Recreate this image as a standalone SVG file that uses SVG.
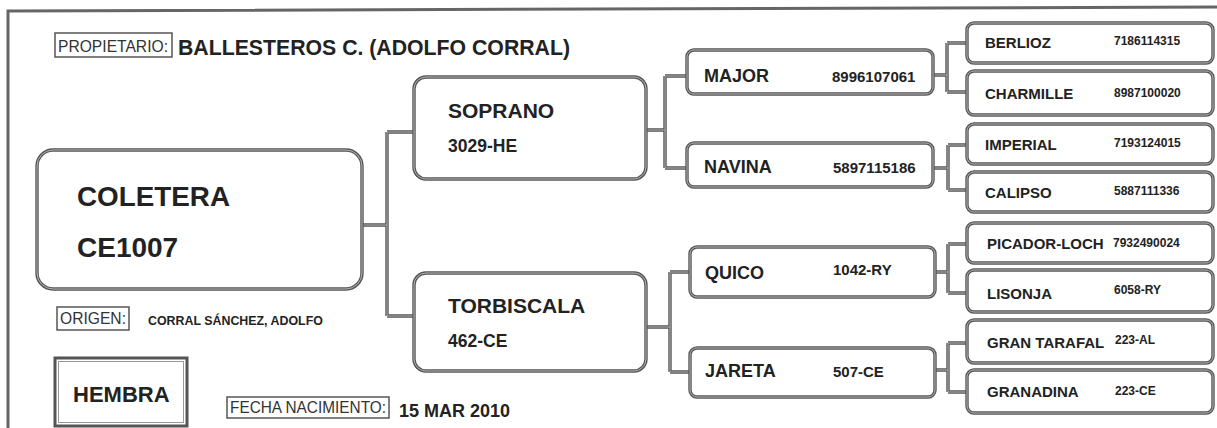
<svg xmlns="http://www.w3.org/2000/svg" width="1217" height="428" viewBox="0 0 1217 428">
<style>
.o{fill:none;stroke:#555;stroke-width:3.4}
.i{fill:none;stroke:#b5b5b5;stroke-width:1}
.n{fill:#fff}
.lb{fill:none;stroke:#555;stroke-width:1.5}
.c{fill:none;stroke:#555;stroke-width:3.4}
.ci{fill:none;stroke:#b5b5b5;stroke-width:1}
text{font-family:"Liberation Sans",Arial,sans-serif;fill:#222}
.b{font-weight:bold}
.r{font-weight:normal;fill:#333}
</style>
<rect x="0" y="0" width="1217" height="428" fill="#fff"/>
<g id="frame">
<path d="M8,428 V11 L1217,7" fill="none" stroke="#666" stroke-width="3"/>
</g>
<g id="connectors">
<path class="c" d="M362,225 H387 M387,132 V316 M387,132 H414 M387,316 H414 M646,130 H665 M665,76 V168 M665,76 H687 M665,168 H687 M646,327 H670 M670,272 V372 M670,272 H690 M670,372 H690 M933,75 H947 M947,43 V92 M947,43 H967 M947,92 H967 M933,168 H948 M948,145 V190 M948,145 H967 M948,190 H967 M935,272 H948 M948,244 V293 M948,244 H967 M948,293 H967 M935,370 H948 M948,343 V392 M948,343 H967 M948,392 H967"/>
<path class="ci" d="M362,225 H387 M387,132 V316 M387,132 H414 M387,316 H414 M646,130 H665 M665,76 V168 M665,76 H687 M665,168 H687 M646,327 H670 M670,272 V372 M670,272 H690 M670,372 H690 M933,75 H947 M947,43 V92 M947,43 H967 M947,92 H967 M933,168 H948 M948,145 V190 M948,145 H967 M948,190 H967 M935,272 H948 M948,244 V293 M948,244 H967 M948,293 H967 M935,370 H948 M948,343 V392 M948,343 H967 M948,392 H967"/>
</g>
<g id="propietario">
<rect class="lb" x="55" y="33" width="117" height="24"/>
<text class="r" x="58" y="52" font-size="17" textLength="110" lengthAdjust="spacingAndGlyphs">PROPIETARIO:</text>
<text class="b" x="178" y="55" font-size="22" textLength="392" lengthAdjust="spacingAndGlyphs">BALLESTEROS C. (ADOLFO CORRAL)</text>
</g>
<g id="coletera">
<rect class="n o" x="37" y="150" width="325" height="139" rx="16"/>
<rect class="i" x="37" y="150" width="325" height="139" rx="16"/>
<text class="b" x="77" y="206" font-size="28" textLength="153" lengthAdjust="spacingAndGlyphs">COLETERA</text>
<text class="b" x="77" y="257" font-size="28">CE1007</text>
</g>
<g id="origen">
<rect class="lb" x="57" y="307" width="72" height="23"/>
<text class="r" x="60" y="324" font-size="17" textLength="66" lengthAdjust="spacingAndGlyphs">ORIGEN:</text>
<text class="b" x="148" y="325" font-size="12.4">CORRAL SÁNCHEZ, ADOLFO</text>
</g>
<g id="hembra">
<rect x="55" y="358" width="132" height="68" fill="#fff" stroke="#555" stroke-width="3"/>
<rect x="58.5" y="361.5" width="125" height="61" fill="none" stroke="#999" stroke-width="1"/>
<text class="b" x="73" y="402" font-size="22">HEMBRA</text>
</g>
<g id="fecha">
<rect class="lb" x="227" y="397" width="162" height="21"/>
<text class="r" x="230" y="413" font-size="17" textLength="156" lengthAdjust="spacingAndGlyphs">FECHA NACIMIENTO:</text>
<text class="b" x="399" y="417" font-size="18">15 MAR 2010</text>
</g>
<g id="soprano">
<rect class="n o" x="414" y="77" width="232" height="102" rx="12"/>
<rect class="i" x="414" y="77" width="232" height="102" rx="12"/>
<text class="b" x="448" y="118" font-size="21">SOPRANO</text>
<text class="b" x="448" y="152" font-size="17.5">3029-HE</text>
</g>
<g id="torbiscala">
<rect class="n o" x="414" y="273" width="232" height="98" rx="12"/>
<rect class="i" x="414" y="273" width="232" height="98" rx="12"/>
<text class="b" x="448" y="313" font-size="21">TORBISCALA</text>
<text class="b" x="448" y="347" font-size="17.5">462-CE</text>
</g>
<g id="major">
<rect class="n o" x="687" y="50" width="246" height="44" rx="7"/>
<rect class="i" x="687" y="50" width="246" height="44" rx="7"/>
<text class="b" x="704" y="82" font-size="18">MAJOR</text>
<text class="b" x="832" y="82" font-size="15">8996107061</text>
</g>
<g id="navina">
<rect class="n o" x="687" y="143" width="246" height="44" rx="7"/>
<rect class="i" x="687" y="143" width="246" height="44" rx="7"/>
<text class="b" x="704" y="173" font-size="18">NAVINA</text>
<text class="b" x="833" y="173" font-size="15">5897115186</text>
</g>
<g id="quico">
<rect class="n o" x="690" y="247" width="245" height="50" rx="7"/>
<rect class="i" x="690" y="247" width="245" height="50" rx="7"/>
<text class="b" x="705" y="279" font-size="18">QUICO</text>
<text class="b" x="833" y="275" font-size="15">1042-RY</text>
</g>
<g id="jareta">
<rect class="n o" x="690" y="348" width="245" height="49" rx="7"/>
<rect class="i" x="690" y="348" width="245" height="49" rx="7"/>
<text class="b" x="705" y="377" font-size="18">JARETA</text>
<text class="b" x="833" y="377" font-size="15">507-CE</text>
</g>
<g id="berlioz">
<rect class="n o" x="967" y="23" width="246" height="40" rx="7"/>
<rect class="i" x="967" y="23" width="246" height="40" rx="7"/>
<text class="b" x="985" y="48" font-size="15">BERLIOZ</text>
<text class="b" x="1114" y="45" font-size="12">7186114315</text>
</g>
<g id="charmille">
<rect class="n o" x="967" y="71" width="246" height="44" rx="7"/>
<rect class="i" x="967" y="71" width="246" height="44" rx="7"/>
<text class="b" x="985" y="99" font-size="15">CHARMILLE</text>
<text class="b" x="1114" y="97" font-size="12">8987100020</text>
</g>
<g id="imperial">
<rect class="n o" x="967" y="124" width="246" height="40" rx="7"/>
<rect class="i" x="967" y="124" width="246" height="40" rx="7"/>
<text class="b" x="985" y="150" font-size="15">IMPERIAL</text>
<text class="b" x="1114" y="147" font-size="12">7193124015</text>
</g>
<g id="calipso">
<rect class="n o" x="967" y="172" width="246" height="40" rx="7"/>
<rect class="i" x="967" y="172" width="246" height="40" rx="7"/>
<text class="b" x="985" y="198" font-size="15">CALIPSO</text>
<text class="b" x="1114" y="195" font-size="12">5887111336</text>
</g>
<g id="picador-loch">
<rect class="n o" x="967" y="223" width="246" height="40" rx="7"/>
<rect class="i" x="967" y="223" width="246" height="40" rx="7"/>
<text class="b" x="987" y="249" font-size="15">PICADOR-LOCH</text>
<text class="b" x="1113" y="247" font-size="12">7932490024</text>
</g>
<g id="lisonja">
<rect class="n o" x="967" y="270" width="246" height="42" rx="7"/>
<rect class="i" x="967" y="270" width="246" height="42" rx="7"/>
<text class="b" x="987" y="299" font-size="15">LISONJA</text>
<text class="b" x="1114" y="294" font-size="12">6058-RY</text>
</g>
<g id="gran-tarafal">
<rect class="n o" x="967" y="320" width="246" height="43" rx="7"/>
<rect class="i" x="967" y="320" width="246" height="43" rx="7"/>
<text class="b" x="987" y="348" font-size="15">GRAN TARAFAL</text>
<text class="b" x="1115" y="344" font-size="12">223-AL</text>
</g>
<g id="granadina">
<rect class="n o" x="967" y="370" width="246" height="43" rx="7"/>
<rect class="i" x="967" y="370" width="246" height="43" rx="7"/>
<text class="b" x="987" y="397" font-size="15">GRANADINA</text>
<text class="b" x="1115" y="395" font-size="12">223-CE</text>
</g>
</svg>
